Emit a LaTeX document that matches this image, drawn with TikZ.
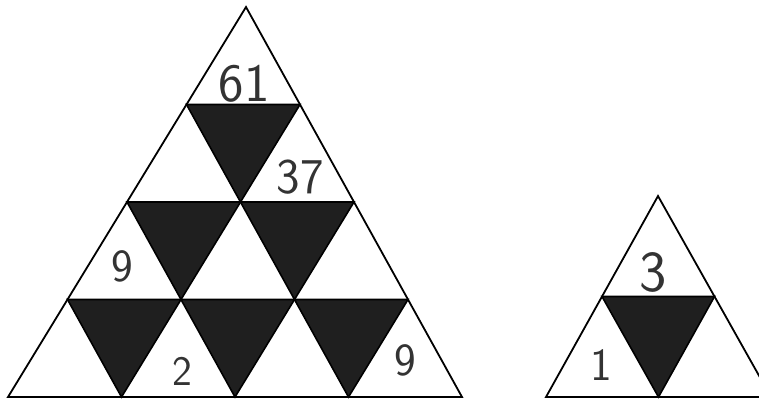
\documentclass[tikz,border=0pt]{standalone}
\usepackage{tikz}
\usetikzlibrary{calc}

\begin{document}
\begin{tikzpicture}[
    x=1pt, y=-1pt,
    edge/.style={draw=black, line width=1.8pt, line join=miter},
    hole/.style={fill=black!88, draw=black, line width=1.6pt, line join=miter},
    num/.style={font=\sffamily\fontsize{#1}{#1}\selectfont, text=black!80, inner sep=0pt},
    num/.default=46
]
    % Page frame
    \useasboundingbox (0,0) rectangle (759,402);

    % Grid points of the large triangle: row i, position j
    \foreach \i in {0,...,4}{
        \foreach \j in {0,...,\i}{
            \coordinate (p\i\j) at ({246-59.5*\i+113.5*\j}, {7+97.5*\i});
        }
    }

    % Dark downward triangles
    \foreach \i/\k in {1/2,2/3,3/4}{
        \foreach \j [evaluate=\j as \n using int(\j-1)] in {1,...,\i}
            \draw[hole] (p\i\n) -- (p\i\j) -- (p\k\j) -- cycle;
    }

    % Outline and row lines
    \draw[edge] (p00) -- (p40) -- (p44) -- cycle;
    \draw[edge] (p10) -- (p11);
    \draw[edge] (p20) -- (p22);
    \draw[edge] (p30) -- (p33);

    % Small triangle
    \coordinate (stop) at (658,196);
    \coordinate (sleft) at (546,397);
    \coordinate (sright) at (771,397);
    \coordinate (sl) at ($(stop)!0.5!(sleft)$);
    \coordinate (sr) at ($(stop)!0.5!(sright)$);
    \coordinate (sb) at ($(sleft)!0.5!(sright)$);
    \draw[hole] (sl) -- (sr) -- (sb) -- cycle;
    \draw[edge] (stop) -- (sleft) -- (sright) -- cycle;

    % Numbers
    \node[num=54] (n61) at (244,84) {61};
    \node[num=50] (n37) at (300,177) {37};
    \node[num] (n9a) at (122,266) {9};
    \node[num=42] (n2) at (182,371) {2};
    \node[num] (n9b) at (405,360) {9};
    \node[num=58] (n3) at (653,272) {3};
    \node[num=46] (n1) at (601,365) {1};

\end{tikzpicture}
\end{document}
